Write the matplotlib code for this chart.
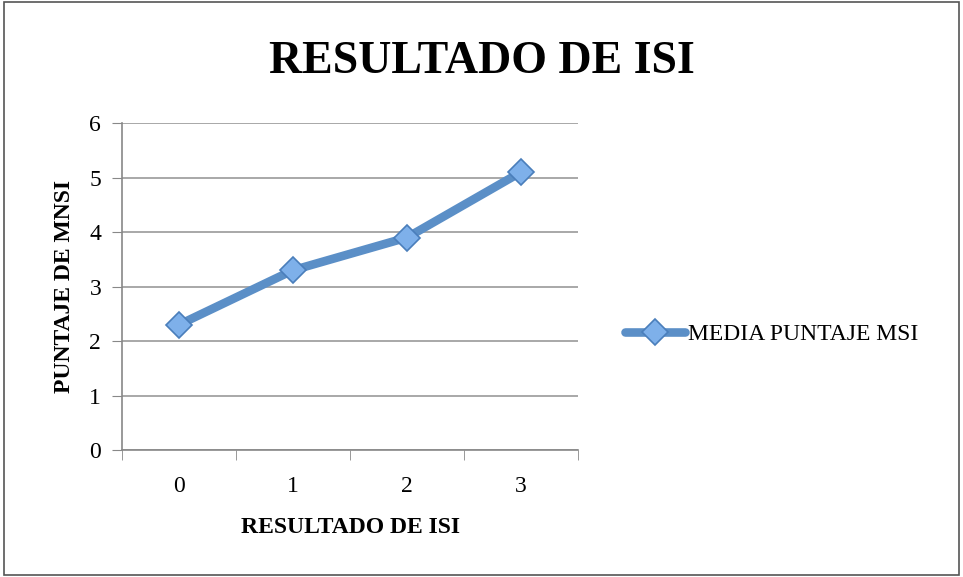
import numpy as np
import matplotlib.pyplot as plt
from matplotlib.patches import Rectangle

# datos
categorias = ['0', '1', '2', '3']
media_puntaje = [2.3, 3.3, 3.9, 5.1]

plt.rcParams['font.family'] = ['Liberation Serif', 'DejaVu Serif']

fig = plt.figure(figsize=(9.63, 5.77), dpi=100)
ax = fig.add_axes([0.1267, 0.220, 0.4735, 0.5667])

x = np.arange(len(categorias))
ax.plot(x, media_puntaje, color='#5B8FC7', linewidth=6.2, solid_capstyle='round',
        marker='D', markersize=13.5, markerfacecolor='#7EB0EA',
        markeredgecolor='#4A7EBB', markeredgewidth=1.2,
        label='MEDIA PUNTAJE MSI')

ax.set_xlim(-0.5, 3.5)
ax.set_ylim(0, 6)
ax.set_yticks(range(7))
ax.set_xticks(x)
ax.set_xticklabels(categorias)
ax.set_xticks(np.arange(-0.5, 4, 1), minor=True)
ax.tick_params(axis='x', which='major', length=0, pad=19, labelsize=17)
ax.tick_params(axis='x', which='minor', length=7, color='#888888', direction='out')
ax.tick_params(axis='y', length=7, color='#888888', labelsize=17, pad=8)
ax.grid(axis='y', color='#999999', linewidth=1.2)
ax.set_axisbelow(True)
for s in ['top', 'right']:
    ax.spines[s].set_visible(False)
for s in ['left', 'bottom']:
    ax.spines[s].set_color('#888888')
    ax.spines[s].set_linewidth(1.2)

ax.set_xlabel('RESULTADO DE ISI', fontsize=17, fontweight='bold', labelpad=14)
ax.set_ylabel('PUNTAJE DE MNSI', fontsize=17, fontweight='bold', labelpad=10)

fig.text(0.5, 0.893, 'RESULTADO DE ISI', ha='center', va='center',
         fontsize=33, fontweight='bold')

fig.legend(loc='center left', bbox_to_anchor=(0.627, 0.421), frameon=False,
           fontsize=17, handlelength=2.55, handletextpad=0.1)

fig.patches.append(Rectangle((0.004, 0.004), 0.992, 0.992, transform=fig.transFigure,
                             fill=False, edgecolor='#555555', linewidth=1.2))

fig.savefig('out.png', dpi=100)
